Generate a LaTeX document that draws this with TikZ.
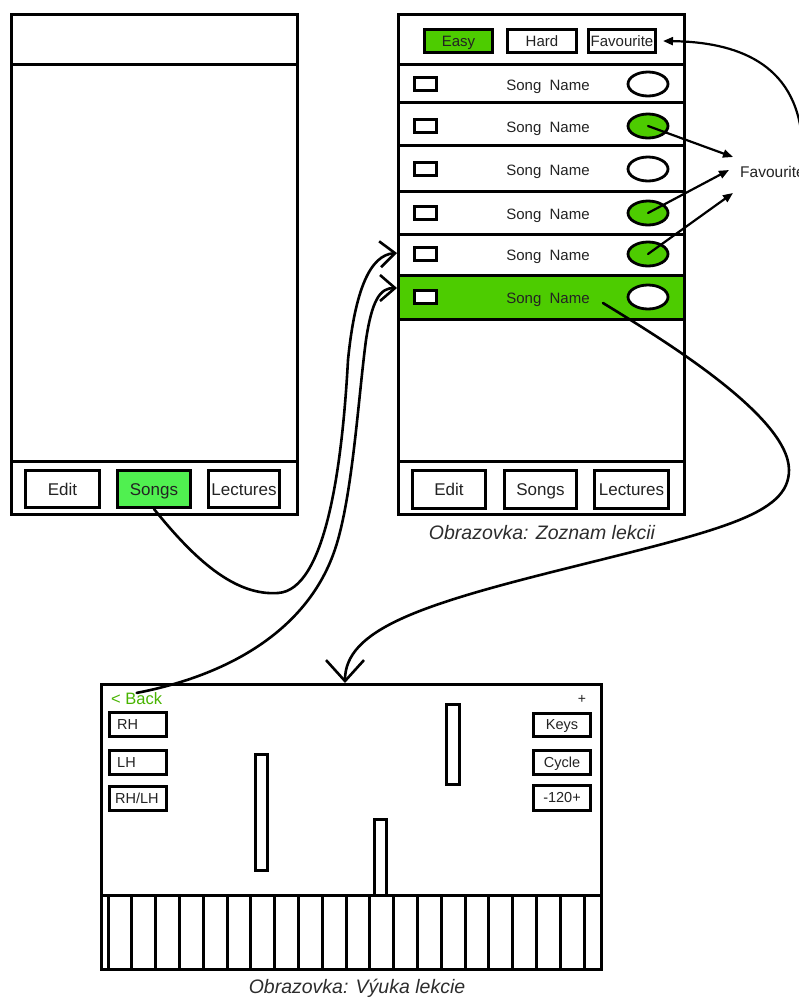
\documentclass[tikz,border=0pt]{standalone}
\usepackage{fontspec}
\setmainfont{Liberation Sans}
\usetikzlibrary{arrows.meta,shapes.geometric}
\definecolor{gA}{RGB}{77,204,0}
\definecolor{gB}{RGB}{80,240,80}
\definecolor{gBack}{RGB}{72,180,0}
\definecolor{ink}{RGB}{35,35,35}
\definecolor{capc}{RGB}{45,45,45}
\begin{document}
\begin{tikzpicture}[x=1pt,y=-1pt,
  frame/.style={draw=black,line width=3pt,fill=white,inner sep=0pt},
  sepl/.style={draw=black,line width=3pt},
  tab/.style={draw=black,line width=3pt,inner sep=0pt,minimum height=37pt,text=ink,font=\fontsize{17pt}{20pt}\selectfont,text height=12.2pt,text depth=0pt},
  hbtn/.style={draw=black,line width=3pt,inner sep=0pt,minimum height=23pt,text=ink,font=\fontsize{15pt}{18pt}\selectfont,text height=10.7pt,text depth=0pt},
  sbox/.style={draw=black,line width=3pt,inner sep=0pt,minimum width=22pt,minimum height=13pt,fill=white},
  favel/.style={ellipse,draw=black,line width=2.8pt,inner sep=0pt,minimum width=40pt,minimum height=24pt},
  song/.style={text=ink,font=\fontsize{15pt}{18pt}\selectfont,inner sep=0pt,text height=10.7pt,text depth=0pt},
  sbtn/.style={draw=black,line width=3pt,inner sep=0pt,minimum width=57pt,minimum height=24pt},
  slbl/.style={text=ink,font=\fontsize{14.5pt}{17pt}\selectfont,inner sep=0pt,text height=10.4pt,text depth=0pt},
  notebar/.style={draw=black,line width=3pt,fill=white},
  cur/.style={draw=black,line width=2.6pt,line cap=round,line join=round},
  capt/.style={text=capc,font=\itshape\fontsize{19.5pt}{23pt}\selectfont},
  barbS/.style={-{Straight Barb[length=15pt,width=26pt]}},
  barbL/.style={-{Straight Barb[length=21pt,width=38pt]}},
  tri/.style={-{Triangle[length=10pt,width=8pt]}},
]
\useasboundingbox (0,0) rectangle (799,999);
\fill[white] (0,0) rectangle (799,999);

% ---------- left screen ----------
\node[frame,minimum width=286pt,minimum height=500pt] (scrL) at (154.5,264.5) {};
\draw[sepl] (11.5,64) -- (297.5,64);
\draw[sepl] (11.5,461) -- (297.5,461);
\node[tab,minimum width=74pt] (editL) at (62.5,489) {Edit};
\node[tab,minimum width=73pt,fill=gB] (songsL) at (154,489) {Songs};
\node[tab,minimum width=71pt] (lectL) at (244,489) {Lectures};

% ---------- right screen ----------
\node[frame,minimum width=286pt,minimum height=500pt] (scrR) at (541.5,264.5) {};
\fill[gA] (400,275) rectangle (683,319);
\foreach \yy in {64,102,145,191,234,275,319,461} \draw[sepl] (399,\yy) -- (684,\yy);
\node[hbtn,minimum width=68pt,fill=gA] (easy) at (458.5,41) {Easy};
\node[hbtn,minimum width=69pt] (hard) at (542,41) {Hard};
\node[hbtn,minimum width=67pt] (favb) at (622,41) {Favourite};
\foreach \n/\yy/\cc in {1/84/white,2/126/gA,3/169/white,4/213/gA,5/254/gA,6/297/white} {
  \node[sbox] (b\n) at (425.5,\yy) {};
  \node[song] (s\n) at (548,\yy+1.5) {Song\ \ Name};
  \node[favel,fill=\cc] (e\n) at (648,\yy) {};
}
\node[tab,minimum width=73pt,minimum height=38pt] (editR) at (449,489.5) {Edit};
\node[tab,minimum width=72pt,minimum height=38pt] (songsR) at (540.5,489.5) {Songs};
\node[tab,minimum width=74pt,minimum height=38pt] (lectR) at (631.5,489.5) {Lectures};
\node[capt] (capR) at (542,533) {Obrazovka: Zoznam lekcii};

% favourite label and arrows
\node[song,anchor=west,font=\fontsize{15.5pt}{18pt}\selectfont,text height=11.1pt] (favl) at (740,172) {Favourite};
\coordinate (fa1) at (733,157);
\coordinate (fa2) at (729,170);
\coordinate (fa3) at (733,193);
\draw[cur,line width=2.2pt,tri] (e2.center) -- (fa1);
\draw[cur,line width=2.2pt,tri] (e4.center) -- (fa2);
\draw[cur,line width=2.2pt,tri] (e5.center) -- (fa3);
\coordinate (rin) at (802,140);
\draw[cur,line width=2.2pt,tri] (rin) .. controls (796,62) and (735,42) .. ([xshift=6pt]favb.east);

% ---------- bottom screen ----------
\node[frame,minimum width=500pt,minimum height=285pt] (scrB) at (351.5,827) {};
\draw[sepl] (101.5,895) -- (601.5,895);
\foreach \i in {0,...,20} \draw[sepl] ({108+23.8*\i},895) -- ({108+23.8*\i},969.5);
\draw[notebar] (255.5,754.5) rectangle (267.5,870.5);
\draw[notebar] (446.5,704.5) rectangle (459.5,784.5);
\draw[notebar] (374.5,819.5) rectangle (386.5,895);

\node[anchor=west,text=gBack,font=\fontsize{16.5pt}{19pt}\selectfont,inner sep=0pt,text height=11.8pt,text depth=0pt] (back) at (111,699) {< Back};
\node[sbtn] (rh) at (138,724.5) {};
\node[slbl,anchor=west] (rht) at ([xshift=9pt]rh.west) {RH};
\node[sbtn] (lh) at (138,762.5) {};
\node[slbl,anchor=west] (lht) at ([xshift=9pt]lh.west) {LH};
\node[sbtn] (rlh) at (138,798) {};
\node[slbl,anchor=west] (rlht) at ([xshift=7pt]rlh.west) {RH/LH};

\node[slbl,font=\fontsize{14pt}{16pt}\selectfont] (plus) at (582,698) {+};
\node[sbtn,minimum height=23pt,slbl] (keys) at (562,724.5) {Keys};
\node[sbtn,minimum height=24pt,slbl] (cycle) at (562,762) {Cycle};
\node[sbtn,minimum height=25pt,slbl] (tempo) at (562,797.5) {-120+};

\node[capt] (capB) at (357,988) {Obrazovka: Výuka lekcie};

% ---------- connectors ----------
\coordinate (aEnd) at (397,253);
\coordinate (bEnd) at (397,288);
\coordinate (cStart) at (603,303);
\coordinate (cEnd) at (345,683);
\draw[cur,barbS] (songsL.south) .. controls (195,560) and (235,596) .. (278,593)
  .. controls (325,590) and (342,470) .. (348,360)
  .. controls (355,290) and (370,255) .. (aEnd);
\draw[cur,barbS] (back.north) .. controls (230,675) and (305,630) .. (333,555)
  .. controls (352,505) and (358,400) .. (366,340)
  .. controls (372,300) and (380,288) .. (bEnd);
\draw[cur,barbL] (cStart) .. controls (655,335) and (789,415) .. (789,470)
  .. controls (789,515) and (720,530) .. (560,570)
  .. controls (420,605) and (345,630) .. (cEnd);
\end{tikzpicture}
\end{document}
